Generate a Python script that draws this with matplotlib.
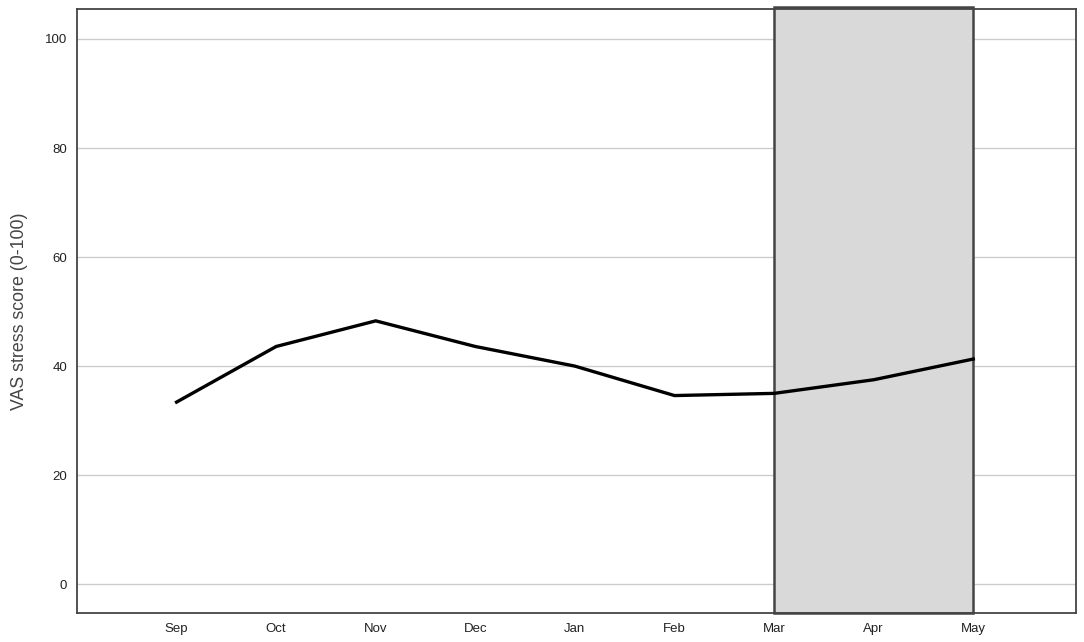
import matplotlib.pyplot as plt
from matplotlib.patches import Rectangle

plt.rcParams["font.family"] = ["Liberation Sans", "DejaVu Sans"]

months = ["Sep", "Oct", "Nov", "Dec", "Jan", "Feb", "Mar", "Apr", "May"]
vas_stress = [33.4, 43.6, 48.3, 43.6, 40.0, 34.6, 35.0, 37.5, 41.3]
shade_start = "Mar"
shade_end = "May"

fig = plt.figure(figsize=(10.84, 6.42), dpi=100)
ax = fig.add_axes([0.071, 0.045, 0.9215, 0.941])

x = list(range(len(months)))
ax.set_xlim(-1, 9.03)
ax.set_ylim(-5.3, 105.5)

ymin, ymax = ax.get_ylim()
i0, i1 = months.index(shade_start), months.index(shade_end)
ax.add_patch(Rectangle((i0, ymin), i1 - i0, ymax - ymin + 0.4,
                       facecolor="#d9d9d9", edgecolor="#444444",
                       linewidth=1.8, zorder=2, clip_on=False))

for y in range(0, 101, 20):
    ax.axhline(y, color="#cccccc", linewidth=1.0, zorder=1)

ax.plot(x, vas_stress, color="black", linewidth=2.4, zorder=3,
        solid_joinstyle="miter")

ax.set_xticks(x)
ax.set_xticklabels(months)
ax.set_yticks(range(0, 101, 20))
ax.tick_params(length=0, labelsize=9.5, colors="#222222", pad=7)
ax.set_ylabel("VAS stress score (0-100)", fontsize=12.8, color="#444444",
              labelpad=12)

for s in ax.spines.values():
    s.set_color("#444444")
    s.set_linewidth(1.3)

fig.savefig("out.png", dpi=100)
